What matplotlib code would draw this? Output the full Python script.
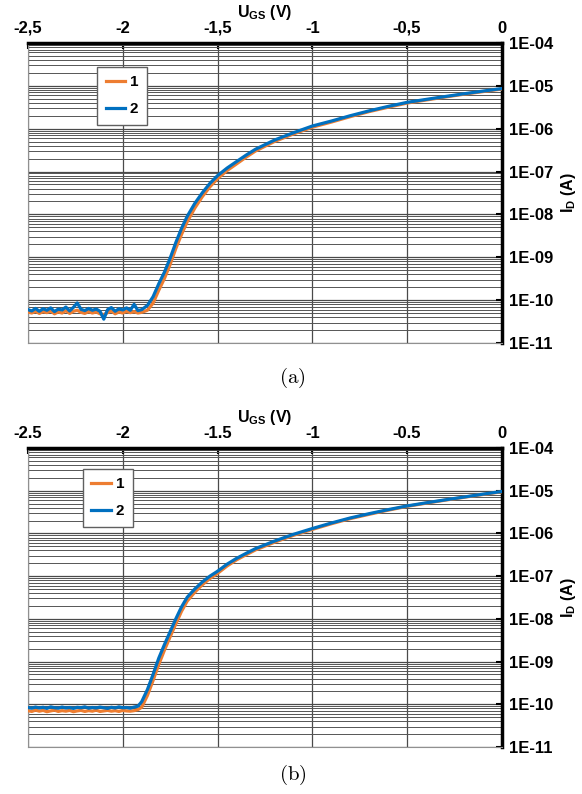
import numpy as np
import matplotlib
matplotlib.use("Agg")
import matplotlib.pyplot as plt
from matplotlib.ticker import LogLocator, NullFormatter, FixedLocator, FixedFormatter

plt.rcParams['font.family'] = ['Liberation Sans', 'DejaVu Sans']
plt.rcParams['mathtext.fontset'] = 'custom'
plt.rcParams['mathtext.rm'] = 'Liberation Sans:bold'
plt.rcParams['mathtext.bf'] = 'Liberation Sans:bold'

# --- datos ---
# rejilla de tension comun (V)
vgs_piso = [-2.50, -2.48, -2.46, -2.44, -2.42, -2.40, -2.38, -2.36, -2.34, -2.32,
            -2.30, -2.28, -2.26, -2.24, -2.22, -2.20, -2.18, -2.16, -2.14, -2.12,
            -2.10, -2.08, -2.06, -2.04, -2.02, -2.00, -1.98, -1.96, -1.94, -1.92,
            -1.90]
vgs_subida_a = [-1.87, -1.84, -1.81, -1.78, -1.75, -1.72, -1.69, -1.66, -1.62, -1.58,
                -1.54, -1.50, -1.45, -1.40, -1.35, -1.30, -1.20, -1.10, -1.00, -0.90,
                -0.80, -0.70, -0.60, -0.50, -0.40, -0.30, -0.20, -0.10, 0.00]
vgs_subida_b = [-1.92, -1.90, -1.87, -1.84, -1.81, -1.78, -1.75, -1.72, -1.69, -1.66,
                -1.62, -1.58, -1.54, -1.50, -1.45, -1.40, -1.35, -1.30, -1.20, -1.10,
                -1.00, -0.90, -0.80, -0.70, -0.60, -0.50, -0.40, -0.30, -0.20, -0.10, 0.00]

# panel (a): corriente de fuga (x1e-11 A) y subida (A)
piso_a1 = [5.3, 5.0, 5.5, 4.9, 5.4, 5.1, 5.6, 4.8, 5.3, 5.0, 5.7, 4.9, 5.5, 5.8, 5.2, 4.9,
           5.4, 5.0, 5.3, 4.8, 4.6, 5.1, 5.6, 4.8, 5.3, 5.0, 5.5, 5.1, 5.4, 5.0, 5.2]
piso_a2 = [6.0, 5.6, 6.4, 5.5, 6.3, 5.8, 6.6, 5.4, 6.2, 5.9, 6.9, 5.6, 6.8, 8.6, 6.1, 5.7,
           6.4, 5.8, 6.2, 5.5, 3.6, 6.0, 6.7, 5.5, 6.3, 5.9, 6.6, 5.8, 8.0, 5.7, 6.0]
subida_a1 = [5.8e-11, 8.5e-11, 1.7e-10, 3.2e-10, 6.8e-10, 1.6e-9, 3.4e-9, 6.7e-9, 1.4e-8, 2.6e-8,
             4.4e-8, 6.8e-8, 1.05e-7, 1.5e-7, 2.15e-7, 3.0e-7, 5.0e-7, 7.5e-7, 1.08e-6, 1.42e-6,
             1.9e-6, 2.5e-6, 3.15e-6, 3.95e-6, 4.65e-6, 5.45e-6, 6.35e-6, 7.3e-6, 8.4e-6]
subida_a2 = [7.5e-11, 1.2e-10, 2.4e-10, 4.5e-10, 9.5e-10, 2.2e-9, 4.7e-9, 9.0e-9, 1.8e-8, 3.2e-8,
             5.3e-8, 8.0e-8, 1.2e-7, 1.7e-7, 2.4e-7, 3.3e-7, 5.4e-7, 8.0e-7, 1.15e-6, 1.5e-6,
             2.0e-6, 2.6e-6, 3.3e-6, 4.1e-6, 4.8e-6, 5.6e-6, 6.5e-6, 7.5e-6, 8.6e-6]

# panel (b)
piso_b1 = [7.1, 6.8, 7.3, 6.9, 7.2, 6.7, 7.0, 7.3, 6.8, 7.1, 6.9, 7.2, 6.7, 7.0, 7.2, 6.8,
           7.1, 6.9, 7.3, 6.8, 7.0, 7.2, 6.9, 7.1, 6.8, 7.2, 7.0, 6.9, 7.1]
piso_b2 = [8.4, 8.1, 8.6, 8.2, 8.5, 8.0, 8.7, 8.3, 8.1, 8.6, 8.2, 8.4, 8.0, 8.5, 8.3, 8.7,
           8.1, 8.4, 8.2, 8.6, 8.3, 8.0, 8.5, 8.2, 8.7, 8.3, 8.4, 8.1, 8.6]
subida_b1 = [7.5e-11, 8.5e-11, 1.6e-10, 3.6e-10, 8.5e-10, 1.85e-9, 3.8e-9, 7.6e-9, 1.5e-8, 2.6e-8,
             4.2e-8, 6.3e-8, 8.8e-8, 1.16e-7, 1.72e-7, 2.4e-7, 3.15e-7, 4.1e-7, 6.2e-7, 9.0e-7,
             1.24e-6, 1.68e-6, 2.22e-6, 2.8e-6, 3.5e-6, 4.3e-6, 5.1e-6, 6.0e-6, 7.0e-6, 8.15e-6, 9.45e-6]
subida_b2 = [9.0e-11, 1.15e-10, 2.2e-10, 5.0e-10, 1.2e-9, 2.5e-9, 5.0e-9, 1.0e-8, 1.9e-8, 3.2e-8,
             5.0e-8, 7.3e-8, 1.0e-7, 1.3e-7, 1.9e-7, 2.6e-7, 3.4e-7, 4.4e-7, 6.6e-7, 9.5e-7,
             1.3e-6, 1.75e-6, 2.3e-6, 2.9e-6, 3.6e-6, 4.4e-6, 5.2e-6, 6.1e-6, 7.1e-6, 8.3e-6, 9.6e-6]

x_ticks = [-2.5, -2.0, -1.5, -1.0, -0.5, 0.0]
x_labels_a = ['-2,5', '-2', '-1,5', '-1', '-0,5', '0']
x_labels_b = ['-2.5', '-2', '-1.5', '-1', '-0.5', '0']
y_ticks = [1e-4, 1e-5, 1e-6, 1e-7, 1e-8, 1e-9, 1e-10, 1e-11]
y_labels = ['1E-04', '1E-05', '1E-06', '1E-07', '1E-08', '1E-09', '1E-10', '1E-11']
series = ['1', '2']
colores = ['#ED7D31', '#0070C0']


def dibujar_panel(ax, v_piso, piso1, piso2, v_sub, sub1, sub2, xlabels, leg_pos):
    v = np.array(v_piso + v_sub)
    i1 = np.concatenate([np.array(piso1) * 1e-11, sub1])
    i2 = np.concatenate([np.array(piso2) * 1e-11, sub2])
    ax.plot(v, i1, color=colores[0], lw=2.3, label=series[0], zorder=3)
    ax.plot(v, i2, color=colores[1], lw=2.3, label=series[1], zorder=4)
    ax.set_yscale('log')
    ax.set_xlim(-2.5, 0)
    ax.set_ylim(1e-11, 1e-4)

    ax.xaxis.tick_top()
    ax.xaxis.set_label_position('top')
    ax.yaxis.tick_right()
    ax.yaxis.set_label_position('right')
    ax.xaxis.set_major_locator(FixedLocator(x_ticks))
    ax.xaxis.set_major_formatter(FixedFormatter(xlabels))
    ax.yaxis.set_major_locator(FixedLocator(y_ticks))
    ax.yaxis.set_major_formatter(FixedFormatter(y_labels))
    ax.yaxis.set_minor_locator(LogLocator(base=10, subs=np.arange(2, 10)))
    ax.yaxis.set_minor_formatter(NullFormatter())

    ax.tick_params(axis='both', which='major', direction='in', length=4, width=1.5,
                   labelsize=12, colors='black', pad=5)
    ax.tick_params(axis='y', which='minor', length=0)
    for lab in ax.get_xticklabels() + ax.get_yticklabels():
        lab.set_fontweight('bold')

    ax.grid(which='major', axis='both', color='#4a4a4a', lw=0.9)
    ax.grid(which='minor', axis='y', color='#555555', lw=0.7)
    ax.set_axisbelow(True)

    ax.spines['top'].set_linewidth(2.5)
    ax.spines['right'].set_linewidth(2.5)
    ax.spines['left'].set_color('#909090')
    ax.spines['bottom'].set_color('#909090')

    ax.set_xlabel(r'U$_{\mathrm{GS}}$ (V)', fontsize=11.5, fontweight='bold', labelpad=3)
    ax.set_ylabel(r'I$_{\mathrm{D}}$ (A)', fontsize=11.5, fontweight='bold',
                  rotation=90, labelpad=4)

    leg = ax.legend(loc='upper left', bbox_to_anchor=leg_pos, fancybox=False,
                    framealpha=1, edgecolor='#606060', handlelength=1.3,
                    handletextpad=0.3, borderpad=0.55, labelspacing=0.85,
                    borderaxespad=0, prop={'weight': 'bold', 'size': 11})
    leg.get_frame().set_linewidth(1.0)


fig = plt.figure(figsize=(5.82, 7.94), dpi=100)
ax1 = fig.add_axes([0.048, 0.568, 0.8144, 0.378])
ax2 = fig.add_axes([0.048, 0.0592, 0.8144, 0.3766])

dibujar_panel(ax1, vgs_piso, piso_a1, piso_a2, vgs_subida_a, subida_a1, subida_a2,
              x_labels_a, (0.146, 0.92))
dibujar_panel(ax2, vgs_piso[:29], piso_b1, piso_b2, vgs_subida_b, subida_b1, subida_b2,
              x_labels_b, (0.116, 0.93))

fig.text(0.503, 1 - 378 / 794, r'$\mathrm{(a)}$', ha='center', va='center',
         fontsize=15, math_fontfamily='cm')
fig.text(0.503, 1 - 775 / 794, r'$\mathrm{(b)}$', ha='center', va='center',
         fontsize=15, math_fontfamily='cm')

fig.savefig('out.png', dpi=100)
